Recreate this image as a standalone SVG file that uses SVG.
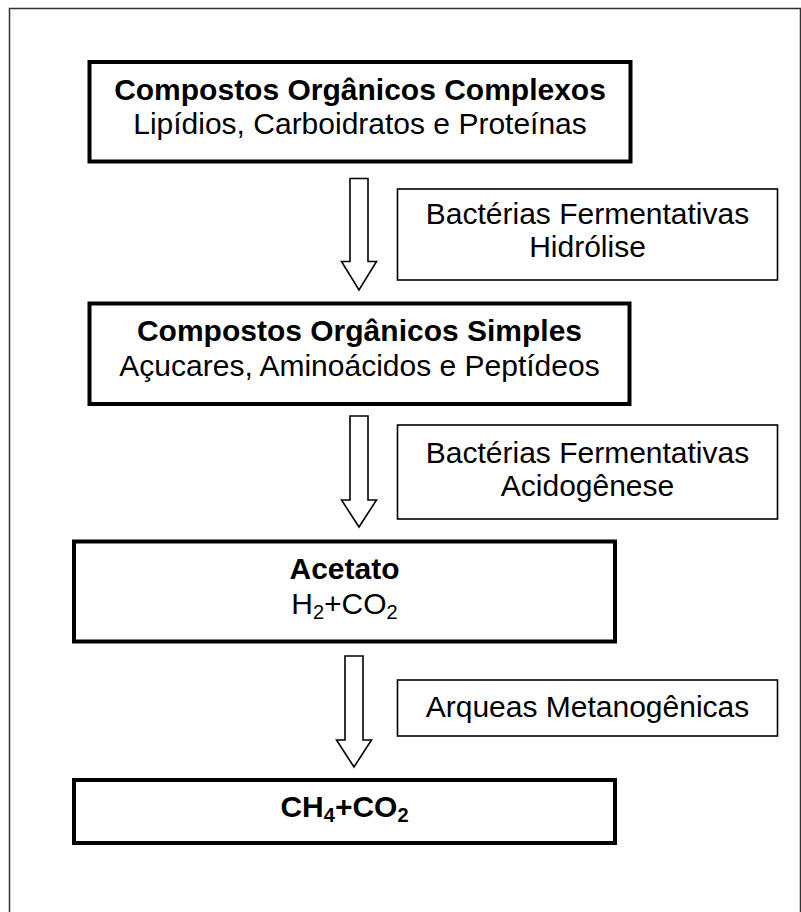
<svg xmlns="http://www.w3.org/2000/svg" width="801" height="912" viewBox="0 0 801 912">
<style>
  .frame { fill: none; stroke: #333; stroke-width: 1.5; }
  .main { fill: #fff; stroke: #000; stroke-width: 4; }
  .label { fill: #fff; stroke: #000; stroke-width: 1.6; }
  .arrow { fill: #fff; stroke: #000; stroke-width: 1.6; stroke-linejoin: miter; }
  text { font-family: "Liberation Sans", Arial, sans-serif; font-size: 30px; fill: #000; text-anchor: middle; }
  .b { font-weight: bold; }
  .sub { font-size: 20px; }
</style>
<rect x="0" y="0" width="801" height="912" fill="#fff"/>
<rect class="frame" x="9.5" y="8.5" width="791" height="920"/>

<g id="node-complexos">
  <rect class="main" x="89.5" y="62" width="541" height="99.5"/>
  <text class="b" x="360" y="100">Compostos Orgânicos Complexos</text>
  <text x="360" y="134">Lipídios, Carboidratos e Proteínas</text>
</g>

<g id="node-simples">
  <rect class="main" x="89.5" y="303.5" width="540" height="100.5"/>
  <text class="b" x="359.5" y="341">Compostos Orgânicos Simples</text>
  <text x="359.5" y="376">Açucares, Aminoácidos e Peptídeos</text>
</g>

<g id="node-acetato">
  <rect class="main" x="74" y="541.5" width="541" height="100"/>
  <text class="b" x="344.5" y="579">Acetato</text>
  <text x="344.5" y="614">H<tspan class="sub" dy="5">2</tspan><tspan dy="-5">+CO</tspan><tspan class="sub" dy="5">2</tspan></text>
</g>

<g id="node-metano">
  <rect class="main" x="74" y="780" width="541" height="63"/>
  <text class="b" x="344.5" y="817">CH<tspan class="sub" dy="5">4</tspan><tspan dy="-5">+CO</tspan><tspan class="sub" dy="5">2</tspan></text>
</g>

<g id="label-hidrolise">
  <rect class="label" x="397.5" y="189" width="380" height="91"/>
  <text x="587.5" y="224">Bactérias Fermentativas</text>
  <text x="587.5" y="257">Hidrólise</text>
</g>

<g id="label-acidogenese">
  <rect class="label" x="397.5" y="425" width="380" height="94"/>
  <text x="587.5" y="463">Bactérias Fermentativas</text>
  <text x="587.5" y="496">Acidogênese</text>
</g>

<g id="label-metanogenicas">
  <rect class="label" x="397.5" y="680" width="380" height="56"/>
  <text x="587.5" y="717">Arqueas Metanogênicas</text>
</g>

<g id="connectors">
  <polygon class="arrow" points="350,178.5 368,178.5 368,261.5 376.5,261.5 359,290 341.5,261.5 350,261.5"/>
  <polygon class="arrow" points="350,416 368,416 368,500 376.5,500 359,527 341.5,500 350,500"/>
  <polygon class="arrow" points="345,656 363,656 363,740 371.5,740 354,767 336.5,740 345,740"/>
</g>
</svg>
